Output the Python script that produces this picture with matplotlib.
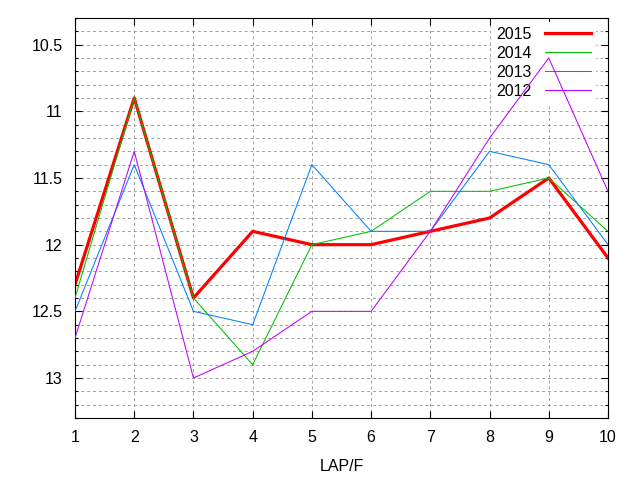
import matplotlib
matplotlib.use("Agg")
import matplotlib.pyplot as plt
from matplotlib.ticker import MultipleLocator, FormatStrFormatter

plt.rcParams['font.family'] = ['Liberation Sans', 'DejaVu Sans']

# data
laps = [1, 2, 3, 4, 5, 6, 7, 8, 9, 10]
y2015 = [12.3, 10.9, 12.4, 11.9, 12.0, 12.0, 11.9, 11.8, 11.5, 12.1]
y2014 = [12.4, 10.9, 12.4, 12.9, 12.0, 11.9, 11.6, 11.6, 11.5, 11.9]
y2013 = [12.5, 11.4, 12.5, 12.6, 11.4, 11.9, 11.9, 11.3, 11.4, 12.0]
y2012 = [12.7, 11.3, 13.0, 12.8, 12.5, 12.5, 11.9, 11.2, 10.6, 11.6]

fig = plt.figure(figsize=(6.4, 4.8), dpi=100)
ax = fig.add_axes([75/640, 62/480, 533/640, 400/480])

# drawn in order, later series on top (like gnuplot)
ax.plot(laps, y2015, color="#ff0000", lw=2.3, label="2015", zorder=2)
ax.plot(laps, y2014, color="#00c000", lw=0.75, label="2014", zorder=3)
ax.plot(laps, y2013, color="#0080ff", lw=0.75, label="2013", zorder=4)
ax.plot(laps, y2012, color="#c000ff", lw=0.75, label="2012", zorder=5)

ax.set_xlim(1, 10)
ax.set_ylim(13.3, 10.3)
ax.set_xticks(laps)
ax.yaxis.set_major_locator(MultipleLocator(0.5))
ax.yaxis.set_minor_locator(MultipleLocator(0.1))
ax.yaxis.set_major_formatter(FormatStrFormatter("%g"))

ax.set_axisbelow(True)
ax.grid(True, which="major", axis="x", color="#a0a0a0", lw=0.7, linestyle=(0, (3, 3)))
ax.grid(True, which="both", axis="y", color="#a0a0a0", lw=0.7, linestyle=(0, (3, 3)))

ax.tick_params(which="both", direction="in", top=True, right=True, labelsize=11.5, width=0.8)
ax.tick_params(which="major", length=5, pad=9)
ax.tick_params(which="minor", length=2.5)
for s in ax.spines.values():
    s.set_linewidth(0.8)

ax.set_xlabel("LAP/F", fontsize=11.5, labelpad=10)

leg = ax.legend(loc="upper right", bbox_to_anchor=(0.9775, 0.99), markerfirst=False, frameon=True,
                fancybox=False, edgecolor="none", framealpha=1, fontsize=11.5,
                handlelength=2.9, handletextpad=0.85, labelspacing=0.25, borderpad=0.3,
                borderaxespad=0)
leg.set_zorder(1)

fig.savefig("out.png", dpi=100)
